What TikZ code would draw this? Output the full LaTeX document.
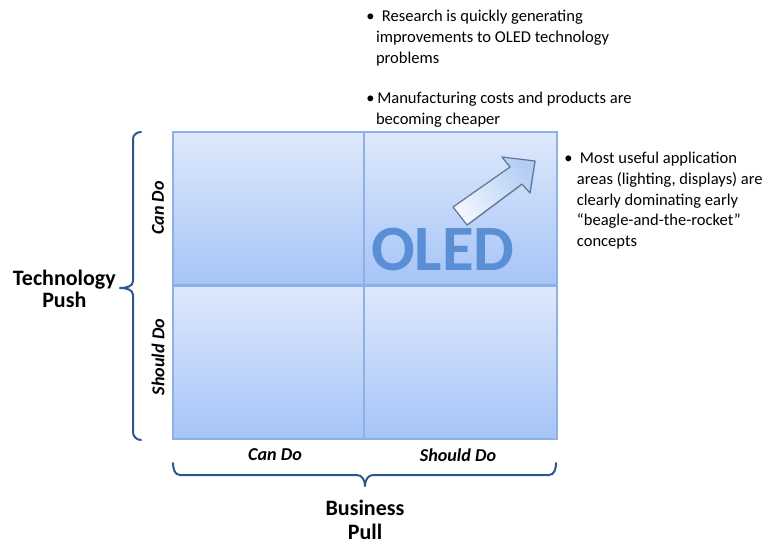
\documentclass[tikz,border=0pt]{standalone}
\usepackage{fontspec}
\setmainfont{Carlito}
\usetikzlibrary{shadows}
\definecolor{cellline}{HTML}{8EB0E3}
\definecolor{celltop}{HTML}{DEE9FC}
\definecolor{cellbot}{HTML}{A6C4F7}
\definecolor{bracecol}{HTML}{2F5590}
\definecolor{oledblue}{HTML}{5B8FD5}
\definecolor{arrowline}{HTML}{5E7594}
\definecolor{arrowlight}{HTML}{F0F6FE}
\definecolor{arrowdark}{HTML}{B3CDF4}
\tikzset{
  cell/.style={draw=cellline, line width=0.9pt, top color=celltop, bottom color=cellbot},
  bracket/.style={draw=bracecol, line width=1.5pt, line cap=round, line join=round},
  bullettext/.style={align=left, anchor=north west, inner sep=0pt,
    font=\fontsize{12.4}{15.5}\selectfont},
  axislabel/.style={align=center, inner sep=0pt,
    font=\fontsize{16.5}{17}\selectfont\bfseries},
  quadlabel/.style={inner sep=0pt, font=\fontsize{13.6}{15}\selectfont\bfseries\itshape},
}
\begin{document}
\begin{tikzpicture}[x=0.75pt, y=-0.75pt]
\useasboundingbox (0,0) rectangle (763,544);

% four quadrants
\path[cell] (173,132) rectangle (364,285);
\path[cell] (364,132) rectangle (557,285);
\path[cell] (173,286) rectangle (364,439);
\path[cell] (364,286) rectangle (557,439);

% OLED label
\node[inner sep=0pt, text=oledblue, font=\fontsize{48.5}{48.5}\selectfont\bfseries, anchor=base west]
  (oled) at (371,270) {OLED};

% rising block arrow
\path[draw=arrowline, line width=0.9pt, line join=round,
      shading=axis, left color=arrowdark, right color=arrowlight, shading angle=-55,
      drop shadow={shadow xshift=0.6pt, shadow yshift=-0.8pt, opacity=0.25}]
  (453,207) -- (510,167) -- (502,157) -- (535,161) -- (530,193) -- (522,184) -- (467,225) -- cycle;

% side labels of the rows
\node[quadlabel, rotate=90] (rowcan) at (158,208) {Can Do};
\node[quadlabel, rotate=90] (rowshould) at (158,357) {Should Do};
% labels of the columns
\node[quadlabel] (colcan) at (275,455) {Can Do};
\node[quadlabel] (colshould) at (458,455) {Should Do};

% left brace
\draw[bracket] (141,132) to[out=180,in=90] (133,139) -- (133,281)
  to[out=-90,in=0] (120,288)
  to[out=0,in=90] (133,295) -- (133,432) to[out=-90,in=180] (141,440);
\node[axislabel, anchor=east] (techpush) at (116,289) {Technology\\Push};

% bottom brace
\draw[bracket] (173,463) to[out=-90,in=180] (180,475) -- (357,475)
  to[out=0,in=90] (365,486) to[out=90,in=180] (373,475) -- (549,475)
  to[out=0,in=-90] (556,463);
\node[axislabel, anchor=north, font=\fontsize{16.5}{18}\selectfont\bfseries]
  (buspull) at (365,500) {Business\\Pull};

% bullet notes
\node[bullettext] (noteA) at (366,10)
  {\textbullet\ \ Research is quickly generating\\
   \hspace*{7.3pt}improvements to OLED technology\\
   \hspace*{7.3pt}problems};
\node[bullettext] (noteB) at (366,92)
  {\textbullet\,Manufacturing costs and products are\\
   \hspace*{7.3pt}becoming cheaper};
\node[bullettext] (noteC) at (564,152)
  {\textbullet\ \ Most useful application\\
   \hspace*{9.5pt}areas (lighting, displays) are\\
   \hspace*{9.5pt}clearly dominating early\\
   \hspace*{9.5pt}``beagle-and-the-rocket''\\
   \hspace*{9.5pt}concepts};
\end{tikzpicture}
\end{document}
